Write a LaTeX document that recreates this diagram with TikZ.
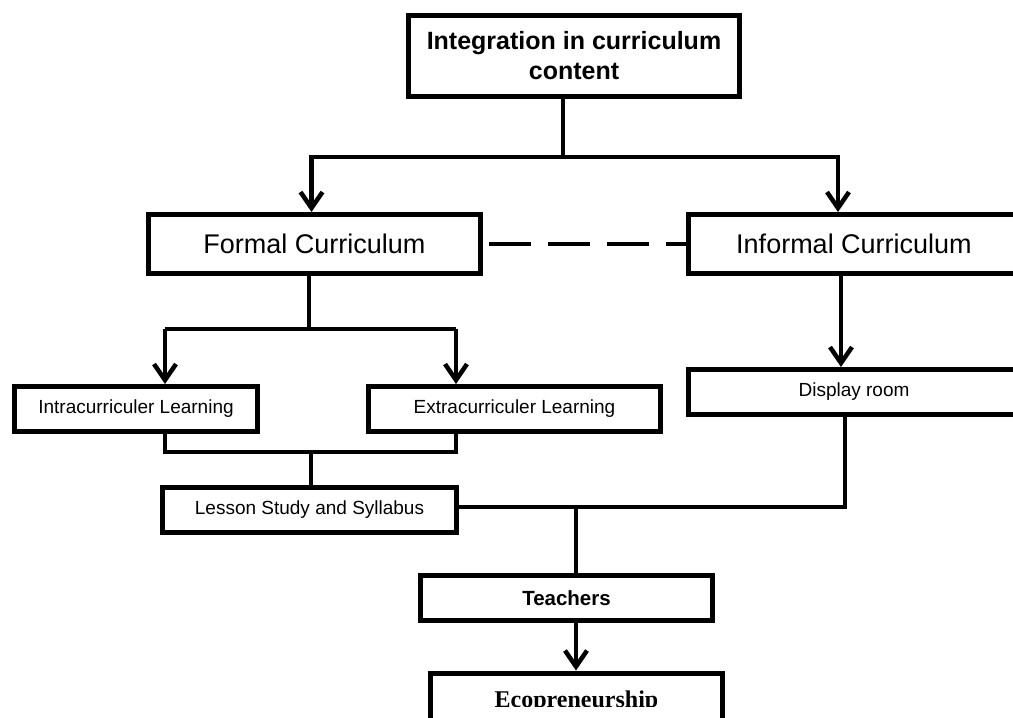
\documentclass[tikz,border=0pt]{standalone}
\usepackage{fontspec}
\setmainfont{Liberation Sans}
\newfontfamily\ecofont{Liberation Serif}
\usetikzlibrary{arrows.meta}
\tikzset{>={Straight Barb[length=16pt,width=22pt]}}

\begin{document}
\begin{tikzpicture}[x=1pt,y=-1pt,
    box/.style={draw, line width=5pt, inner sep=0pt, align=center},
    link/.style={line width=4.5pt},
    bigtext/.style={font=\fontsize{27}{32}\selectfont},
    smalltext/.style={font=\fontsize{19}{23}\selectfont}]
    \useasboundingbox (0,0) rectangle (1013,718);
    \clip (0,0) rectangle (1013,718);

    % Boxes
    \node[box, minimum width=331, minimum height=81, font=\bfseries\fontsize{25}{30}\selectfont] (top) at (574,56) {Integration in curriculum\\content};
    \node[box, bigtext, minimum width=332, minimum height=59] (formal) at (314.5,244) {Formal Curriculum};
    \node[box, bigtext, minimum width=331, minimum height=59] (informal) at (854,244) {Informal Curriculum};
    \node[box, smalltext, minimum width=243, minimum height=45] (intra) at (136,409) {Intracurriculer Learning};
    \node[box, smalltext, minimum width=292, minimum height=45] (extra) at (514.5,409) {Extracurriculer Learning};
    \node[box, smalltext, minimum width=331, minimum height=45] (display) at (854,392) {Display room};
    \node[box, smalltext, minimum width=294, minimum height=45] (lesson) at (309.5,510) {Lesson Study and Syllabus};
    \node[box, minimum width=292, minimum height=45, font=\bfseries\fontsize{20.5}{24}\selectfont] (teachers) at (566.5,598) {Teachers};
    \node[box, minimum width=292, minimum height=70] (eco) at (576.5,708) {};
    \begin{scope}
        \clip (428,660) rectangle (725,706);
        \node[anchor=base, inner sep=0pt, font=\ecofont\bfseries\fontsize{24}{28}\selectfont] (ecotext) at (576.5,707) {Ecopreneurship};
    \end{scope}

    % Top split
    \coordinate (c1) at (563,157);
    \draw[link] (c1 |- top.south) -- (c1);
    \draw[link,->] (c1) -| ([xshift=-3]formal.north);
    \draw[link,->] (c1) -| ([xshift=-16]informal.north);

    % Dashed link
    \draw[link, dash pattern=on 42pt off 17pt, dash phase=53pt] (formal.east) -- (informal.west);

    % Formal branch
    \coordinate (c2) at (309,329);
    \coordinate (ai) at (165,329);
    \coordinate (ae) at (456,329);
    \draw[link] (c2 |- formal.south) -- (c2);
    \draw[link] (ai) -- (ae);
    \draw[link,->] (ai) -- (ai |- intra.north);
    \draw[link,->] (ae) -- (ae |- extra.north);
    \coordinate (bi) at (165,452);
    \coordinate (be) at (456,452);
    \draw[link] (ai |- intra.south) -- (bi) -- (be) -- (ae |- extra.south);
    \coordinate (c3) at (311,452);
    \draw[link] (c3) -- (c3 |- lesson.north);

    % Informal branch
    \draw[link,->] ([xshift=-13]informal.south) -- ([xshift=-13]display.north);
    \coordinate (c4) at (845,507);
    \draw[link] (c4 |- display.south) -- (c4) -- (c4 -| lesson.east);

    % Towards teachers
    \coordinate (c5) at (576,507);
    \draw[link] (c5) -- (c5 |- teachers.north);
    \draw[link,->] (c5 |- teachers.south) -- (c5 |- eco.north);
\end{tikzpicture}
\end{document}
